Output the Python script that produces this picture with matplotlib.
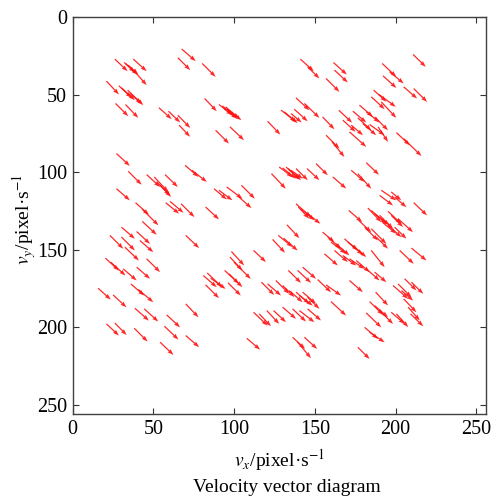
import matplotlib
matplotlib.use("Agg")
import matplotlib.pyplot as plt

plt.rcParams['font.family'] = ['Liberation Serif', 'DejaVu Serif']
plt.rcParams['mathtext.fontset'] = 'stix'

# arrow tails (x, y) and components (u, v), in pixel / pixel·s^-1
x = [26.1, 31.9, 32.7, 34.4, 37.5, 38.5, 20.9, 28.6, 30.2, 34.0, 35.4, 26.5, 32.7, 53.4, 59.3,
     65.1, 65.9, 67.5, 65.1, 27.1, 34.4, 45.8, 50.5, 52.0, 54.1, 57.2, 69.6, 73.8, 27.1,
     80.2, 81.7, 90.6, 92.7, 94.7, 95.8, 93.7, 88.5, 97.4, 120.7, 129.0, 131.0, 135.2, 137.2, 138.3,
     143.5, 141.0, 145.5, 87.5, 90.6, 95.4, 104.5, 123.1, 127.9, 130.0, 132.1, 133.5, 135.2, 138.3, 145.1,
     210.8, 161.5, 162.1, 156.9, 191.7, 196.3, 192.2, 205.0, 211.2, 186.4, 189.7, 184.9, 191.1, 177.6, 181.8,
     173.5, 164.8, 154.8, 167.3, 176.6, 187.0, 179.7, 183.9, 189.1, 172.5, 171.4, 156.9, 160.6, 200.5, 205.0,
     150.7, 181.8, 172.5, 176.6, 161.1, 191.1, 197.3,
     38.9, 43.1, 57.6, 60.3, 67.1, 30.2, 43.1, 23.0, 30.2, 39.6, 41.6, 32.3, 70.0, 20.3, 23.6,
     31.3, 39.6, 45.8, 36.0, 40.6, 15.7, 25.0, 38.5, 44.3, 58.2, 70.0, 20.9, 26.1, 38.1, 56.8, 70.0, 54.1,
     103.0, 82.3, 138.3, 139.7, 141.4, 145.5, 132.7, 127.3, 130.6, 123.8, 112.0, 98.3, 97.4, 99.9, 94.1,
     96.8, 96.2, 80.9, 83.3, 85.4, 82.3, 116.9, 120.7, 125.8, 130.0, 133.5, 139.3, 142.4, 134.1, 138.3,
     140.4, 142.4, 145.5, 112.0, 115.5, 120.2, 124.4, 130.0, 136.2, 140.4, 145.5, 107.8, 136.2, 139.3, 143.5,
     190.1, 199.4, 211.2, 182.8, 184.9, 187.0, 190.1, 195.3, 197.3, 201.5, 191.7, 195.3, 199.4, 171.0, 177.2,
     180.8, 184.9, 188.0, 209.8, 202.5, 154.8, 158.0, 160.0, 163.1, 168.3, 170.4, 173.5, 155.9, 162.1, 167.3,
     171.4, 175.6, 184.9, 181.8, 187.0, 151.7, 156.9, 160.0, 171.4, 198.4, 201.5, 205.6, 209.8, 203.6, 187.6,
     183.9, 187.0, 190.1, 197.3, 200.5, 181.8, 205.0, 207.7, 209.2, 180.8, 183.9, 176.6]
y = [27.1, 29.3, 29.9, 31.0, 27.1, 35.3, 41.3, 44.3, 45.6, 47.1, 49.3, 55.7, 56.4, 58.5, 60.7,
     63.3, 69.7, 20.6, 26.2, 88.0, 99.5, 101.6, 103.1, 106.3, 108.5, 101.6, 95.6, 98.8, 110.7,
     29.9, 52.5, 56.4, 57.3, 57.9, 59.4, 59.0, 73.0, 70.8, 67.2, 60.0, 61.1, 62.2, 59.4, 52.1,
     55.7, 27.1, 32.1, 110.7, 111.7, 109.6, 108.5, 101.0, 96.7, 97.3, 96.7, 97.7, 98.8, 97.7, 97.7,
     24.1, 29.3, 34.2, 39.6, 29.9, 35.3, 37.9, 45.0, 46.1, 47.1, 49.9, 51.4, 54.7, 56.8, 61.1,
     60.7, 60.1, 64.4, 66.5, 65.0, 64.4, 68.7, 69.3, 70.8, 69.7, 74.0, 76.2, 80.5, 74.5, 78.4,
     94.5, 93.9, 98.8, 101.0, 103.1, 111.7, 112.8,
     119.7, 124.0, 119.7, 118.9, 120.4, 135.5, 131.8, 140.8, 141.9, 138.3, 144.1, 148.4, 140.8, 155.5, 158.1,
     162.4, 161.3, 155.9, 172.1, 175.7, 174.9, 179.2, 187.8, 188.2, 192.1, 185.0, 197.9, 197.3, 200.7, 199.4, 205.4, 209.7,
     116.1, 122.5, 120.4, 122.5, 123.6, 126.8, 134.0, 140.8, 142.6, 143.4, 150.5, 151.2, 154.8, 158.1, 163.4,
     165.6, 171.4, 166.7, 165.0, 168.4, 172.7, 171.0, 172.1, 169.9, 173.1, 163.4, 163.4, 161.3, 176.4, 177.4,
     179.6, 177.4, 180.7, 190.4, 191.4, 189.3, 189.3, 187.1, 188.2, 189.3, 188.2, 207.2, 206.5, 209.7, 206.5,
     115.0, 116.1, 119.7, 123.2, 124.7, 126.8, 127.9, 125.3, 127.9, 130.1, 132.2, 134.4, 135.5, 124.7, 131.2,
     135.5, 136.5, 141.9, 149.0, 150.5, 138.7, 141.9, 145.1, 146.2, 143.0, 145.1, 147.3, 152.7, 150.5, 153.8,
     155.9, 157.0, 150.5, 162.4, 164.5, 169.3, 172.7, 183.5, 169.9, 173.1, 172.1, 168.8, 171.0, 176.4, 177.4,
     183.5, 186.1, 189.3, 190.4, 191.4, 190.8, 181.8, 187.1, 191.4, 200.1, 203.3, 213.0]
u = [7.9, 8.3, 5.8, 6.2, 8.3, 7.3, 7.7, 7.9, 8.3, 9.7, 7.3, 7.9, 7.9, 7.9, 7.3,
     7.7, 6.8, 8.7, 7.7, 8.3, 8.3, 8.3, 8.7, 8.3, 6.8, 7.9, 8.3, 9.3, 8.3,
     8.3, 7.5, 8.3, 8.3, 8.3, 8.7, 8.3, 8.3, 8.7, 7.9, 9.3, 8.3, 6.6, 8.3, 8.3,
     9.3, 8.3, 7.3, 7.9, 8.3, 9.7, 8.3, 8.9, 8.3, 8.3, 8.3, 7.9, 7.3, 7.3, 7.7,
     7.9, 8.3, 8.3, 8.3, 8.7, 8.7, 8.3, 8.3, 8.3, 7.9, 10.4, 8.3, 9.3, 8.3, 8.3,
     8.3, 8.3, 7.3, 7.9, 8.3, 8.3, 8.3, 9.3, 6.2, 7.3, 10.4, 8.3, 7.7, 8.3, 11.0,
     7.3, 7.9, 8.3, 8.3, 8.3, 9.3, 6.2,
     8.3, 10.0, 8.3, 8.3, 8.3, 8.3, 8.9, 8.3, 8.3, 8.3, 8.3, 8.7, 8.3, 8.3, 9.1,
     8.3, 8.3, 8.3, 8.3, 9.3, 7.9, 8.3, 8.7, 8.7, 8.3, 7.9, 7.7, 7.3, 8.3, 8.7, 8.3, 8.3,
     7.7, 8.3, 9.3, 6.8, 8.3, 7.9, 7.7, 8.9, 8.7, 7.7, 7.7, 7.9, 7.7, 10.4, 8.9,
     8.3, 7.9, 8.3, 9.3, 9.3, 8.3, 7.9, 8.3, 8.3, 7.3, 7.9, 8.3, 8.3, 8.3, 8.3,
     8.3, 8.3, 7.3, 8.7, 7.3, 7.7, 7.7, 8.3, 8.3, 9.3, 8.3, 8.3, 7.7, 8.3, 7.9,
     8.3, 7.3, 8.3, 8.3, 9.3, 9.3, 8.3, 8.3, 7.3, 9.3, 8.7, 8.3, 7.3, 8.3, 7.7,
     8.3, 9.3, 7.3, 9.3, 8.7, 7.3, 8.3, 9.3, 8.3, 8.3, 9.3, 8.3, 8.3, 8.3, 8.3,
     9.3, 8.3, 8.3, 8.3, 7.3, 8.3, 9.3, 9.3, 8.3, 9.3, 8.3, 7.3, 7.3, 7.3, 7.7,
     8.3, 8.3, 8.3, 8.3, 7.3, 9.3, 7.9, 7.3, 7.9, 8.3, 9.3, 7.3]
v = [7.8, 7.8, 5.8, 6.0, 7.8, 8.6, 8.6, 7.8, 8.0, 9.7, 6.5, 8.2, 8.6, 7.3, 7.3,
     8.2, 7.5, 7.8, 8.0, 8.0, 8.6, 8.0, 9.7, 8.6, 7.5, 8.0, 7.5, 7.5, 7.5,
     8.6, 8.2, 6.9, 7.1, 7.5, 7.1, 6.5, 8.6, 8.6, 8.6, 7.5, 7.3, 5.8, 7.8, 8.0,
     9.3, 7.8, 7.5, 6.9, 6.5, 7.5, 8.6, 9.7, 6.5, 6.9, 8.0, 7.5, 5.4, 7.5, 7.5,
     8.0, 7.8, 8.0, 8.6, 8.6, 7.5, 7.8, 7.5, 8.6, 7.5, 8.0, 8.0, 10.3, 7.5, 6.9,
     7.3, 8.0, 8.0, 7.5, 8.0, 8.6, 7.5, 6.9, 9.7, 6.5, 9.7, 8.6, 9.7, 8.2, 11.2,
     7.5, 7.8, 7.5, 9.7, 7.5, 6.5, 5.4,
     7.8, 10.3, 7.1, 7.3, 8.6, 7.5, 8.6, 8.6, 8.6, 8.0, 7.5, 8.6, 8.2, 8.0, 8.6,
     7.5, 7.5, 8.6, 7.5, 8.2, 7.3, 8.0, 8.0, 8.2, 8.0, 8.6, 7.5, 7.8, 8.6, 8.6, 7.5, 8.2,
     7.1, 8.0, 8.6, 7.5, 7.5, 6.5, 8.6, 7.5, 8.0, 8.6, 7.5, 9.0, 8.6, 10.8, 8.6,
     8.6, 8.2, 7.5, 9.3, 6.9, 8.6, 8.2, 7.5, 8.6, 7.5, 8.0, 8.0, 7.5, 7.5, 7.5,
     6.5, 7.5, 7.5, 8.6, 8.0, 8.6, 7.5, 7.5, 8.2, 7.5, 7.5, 7.3, 7.5, 10.3, 7.5,
     6.5, 6.5, 8.2, 9.0, 8.6, 7.5, 8.6, 8.0, 7.5, 8.6, 7.5, 7.5, 7.5, 7.5, 7.5,
     8.6, 9.7, 7.5, 8.0, 8.6, 6.5, 7.5, 7.5, 7.5, 7.5, 8.2, 7.5, 7.5, 7.5, 6.5,
     6.5, 7.5, 10.8, 7.5, 6.5, 8.2, 6.9, 9.0, 7.5, 8.6, 8.6, 7.5, 7.5, 6.5, 8.6,
     8.6, 7.5, 8.6, 7.5, 8.6, 9.3, 8.6, 8.6, 8.0, 7.5, 6.5, 7.5]

fig = plt.figure(figsize=(4.97, 4.98), dpi=100)
ax = fig.add_axes([0.1463, 0.1687, 0.8316, 0.797])

ax.quiver(x, y, u, v, angles='xy', scale_units='xy', scale=1, color='#ff1010',
          width=0.003, headwidth=3.5, headlength=5, headaxislength=4.5, alpha=0.9)

ax.set_xlim(0, 256)
ax.set_ylim(256, 0)
ax.set_xticks([0, 50, 100, 150, 200, 250])
ax.set_yticks([0, 50, 100, 150, 200, 250])
ax.tick_params(direction='in', top=True, right=True, length=4, width=0.8,
               labelsize=14.5, pad=4, color='#333333')
for s in ax.spines.values():
    s.set_color('#404040')
    s.set_linewidth(1.0)

ax.set_xlabel(r'$v_x$/pixel·s$^{-1}$', fontsize=14, labelpad=6)
ax.set_ylabel(r'$v_y$/pixel·s$^{-1}$', fontsize=14)
ax.yaxis.set_label_coords(-0.085, 0.49)

fig.text(0.578, 0.022, 'Velocity vector diagram', fontsize=14, ha='center', va='center')

fig.savefig('out.png', dpi=100)
